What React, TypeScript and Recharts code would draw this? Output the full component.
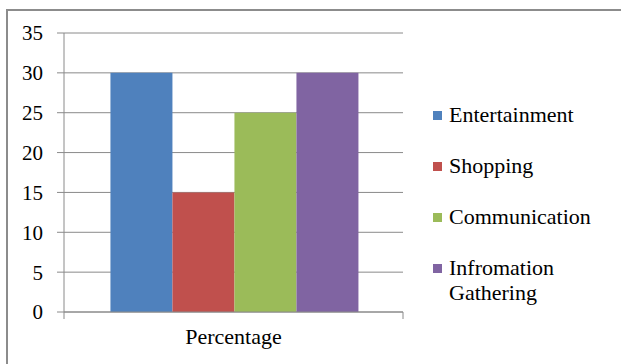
import { BarChart, Bar, XAxis, YAxis, CartesianGrid } from 'recharts'

const categories = ['Percentage']
const seriesNames = ['Entertainment', 'Shopping', 'Communication', 'Infromation Gathering']
const entertainment = [30]
const shopping = [15]
const communication = [25]
const informationGathering = [30]
const yTicks = [0, 5, 10, 15, 20, 25, 30, 35]

const seriesKeys = ['entertainment', 'shopping', 'communication', 'informationGathering']
const colors = ['#4F81BD', '#C0504D', '#9BBB59', '#8064A2']

const data = categories.map((c, i) => ({
  name: c,
  entertainment: entertainment[i],
  shopping: shopping[i],
  communication: communication[i],
  informationGathering: informationGathering[i],
}))

const W = 621
const H = 364
const margin = { top: 33, right: 218, bottom: 22, left: 6 }
const yAxisWidth = 58
const plotWidth = W - margin.left - yAxisWidth - margin.right
const font = "'Liberation Serif', Tinos, 'Times New Roman', 'DejaVu Serif', serif"
const axisColor = '#8a8a8a'

function CategoryTick(props: any) {
  const { x, y, payload } = props
  const half = plotWidth / categories.length / 2
  return (
    <g>
      <line x1={x - half} y1={y - 8} x2={x - half} y2={y - 1} stroke={axisColor} />
      <line x1={x + half} y1={y - 8} x2={x + half} y2={y - 1} stroke={axisColor} />
      <text x={x} y={y + 24} textAnchor="middle" fill="#000" fontSize={22} style={{ fontFamily: font }}>
        {payload.value}
      </text>
    </g>
  )
}

function LegendBox() {
  return (
    <div style={{ position: 'absolute', left: 433, top: 102, width: 186, fontFamily: font, fontSize: 22, color: '#000' }}>
      {seriesNames.map((name, i) => (
        <div key={name} style={{ display: 'flex', alignItems: 'flex-start', height: 51 }}>
          <span
            style={{ width: 9, height: 9, background: colors[i], marginTop: 9, marginRight: 7, flex: 'none' }}
          />
          <span style={{ lineHeight: '25px', width: 160 }}>{name}</span>
        </div>
      ))}
    </div>
  )
}

export default function App() {
  return (
    <div style={{ position: 'absolute', left: 0, top: 0, width: W, height: H, background: '#fff', overflow: 'hidden' }}>
      <div
        style={{
          position: 'absolute',
          left: 6,
          top: 9,
          width: W + 20,
          height: H + 20,
          border: '2px solid #8c8c8c',
          boxSizing: 'border-box',
        }}
      />
      <BarChart
        width={W}
        height={H}
        data={data}
        margin={margin}
        barCategoryGap="13.7%"
        barGap={0}
        style={{ position: 'absolute', left: 0, top: 0 }}
      >
        <CartesianGrid vertical={false} stroke={axisColor} strokeWidth={1} />
        <XAxis
          dataKey="name"
          tickLine={false}
          axisLine={{ stroke: axisColor }}
          height={30}
          tick={<CategoryTick />}
        />
        <YAxis
          domain={[0, 35]}
          ticks={yTicks}
          width={yAxisWidth}
          tickSize={7}
          tickMargin={14}
          axisLine={{ stroke: axisColor }}
          tickLine={{ stroke: axisColor }}
          tick={{ fill: '#000', fontSize: 21, style: { fontFamily: font } }}
        />
        {seriesKeys.map((k, i) => (
          <Bar key={k} dataKey={k} name={seriesNames[i]} fill={colors[i]} isAnimationActive={false} />
        ))}
      </BarChart>
      <LegendBox />
    </div>
  )
}
